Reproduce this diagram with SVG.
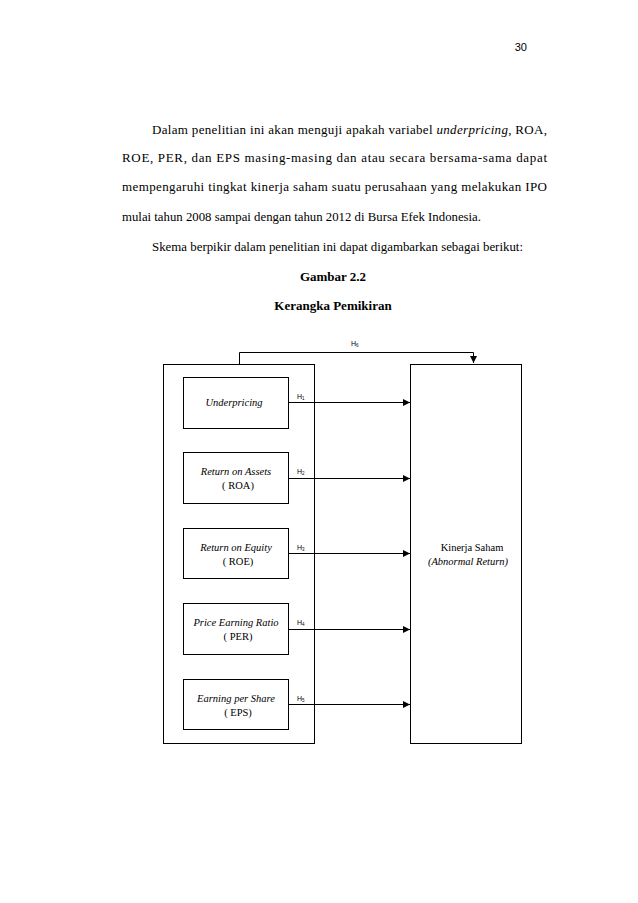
<svg xmlns="http://www.w3.org/2000/svg" width="638" height="903" viewBox="0 0 638 903">
<style>
.p{font-family:"Liberation Serif","Times New Roman",serif;font-size:13px;fill:#000}
.b{font-weight:bold}
.n{font-family:"Liberation Serif",serif;font-size:10.5px;fill:#000;text-anchor:middle}
.i{font-style:italic}
.h{font-family:"Liberation Sans",Arial,sans-serif;font-size:7px;fill:#000}
.s{font-size:4.5px}
.box{fill:#fff;stroke:#000;stroke-width:1}
.ln{fill:none;stroke:#000;stroke-width:1}
</style>
<defs>
<marker id="ar" markerWidth="8" markerHeight="8" refX="7" refY="4" orient="auto" markerUnits="userSpaceOnUse">
<path d="M0,0.5 L7,4 L0,7.5 Z" fill="#000"/>
</marker>
</defs>
<rect width="638" height="903" fill="#fff"/>
<text x="527" y="51" text-anchor="end" style="font-family:'Liberation Sans',Arial,sans-serif;font-size:11px">30</text>
<text class="p" x="152" y="134" textLength="395" lengthAdjust="spacing">Dalam penelitian ini akan menguji apakah variabel <tspan class="i">underpricing</tspan>, ROA,</text>
<text class="p" x="122" y="162" textLength="425" lengthAdjust="spacing">ROE, PER, dan EPS masing-masing dan atau secara bersama-sama dapat</text>
<text class="p" x="122" y="191" textLength="425" lengthAdjust="spacing">mempengaruhi tingkat kinerja saham suatu perusahaan yang melakukan IPO</text>
<text class="p" x="122" y="221" textLength="359" lengthAdjust="spacingAndGlyphs">mulai tahun 2008 sampai dengan tahun 2012 di Bursa Efek Indonesia.</text>
<text class="p" x="152" y="251" textLength="371" lengthAdjust="spacingAndGlyphs">Skema berpikir dalam penelitian ini dapat digambarkan sebagai berikut:</text>
<text class="p b" x="333" y="281" text-anchor="middle">Gambar 2.2</text>
<text class="p b" x="333" y="310" text-anchor="middle">Kerangka Pemikiran</text>

<g id="left-container"><rect class="box" x="163.5" y="364.5" width="151" height="379"/></g>
<g id="kinerja">
<rect class="box" x="410.5" y="364.5" width="111" height="379"/>
<text class="n" x="472" y="551">Kinerja Saham</text>
<text class="n i" x="468" y="565">(Abnormal Return)</text>
</g>
<g id="underpricing">
<rect class="box" x="183.5" y="377.5" width="105" height="51"/>
<text class="n i" x="234" y="406">Underpricing</text>
</g>
<g id="roa">
<rect class="box" x="183.5" y="452.5" width="105" height="51"/>
<text class="n i" x="236" y="475">Return on Assets</text>
<text class="n" x="238" y="489">( ROA)</text>
</g>
<g id="roe">
<rect class="box" x="183.5" y="528.5" width="105" height="50"/>
<text class="n i" x="236" y="551">Return on Equity</text>
<text class="n" x="238" y="565">( ROE)</text>
</g>
<g id="per">
<rect class="box" x="183.5" y="603.5" width="105" height="51"/>
<text class="n i" x="236" y="626">Price Earning Ratio</text>
<text class="n" x="238" y="640">( PER)</text>
</g>
<g id="eps">
<rect class="box" x="183.5" y="679.5" width="105" height="50"/>
<text class="n i" x="236" y="702">Earning per Share</text>
<text class="n" x="238" y="716">( EPS)</text>
</g>

<g id="connectors">
<path class="ln" d="M239.5,364 V352.5 H473.5 V363" marker-end="url(#ar)"/>
<path class="ln" d="M289,402.5 H410" marker-end="url(#ar)"/>
<path class="ln" d="M289,478.5 H410" marker-end="url(#ar)"/>
<path class="ln" d="M289,553.5 H410" marker-end="url(#ar)"/>
<path class="ln" d="M289,629.5 H410" marker-end="url(#ar)"/>
<path class="ln" d="M289,704.5 H410" marker-end="url(#ar)"/>
<text class="h" x="351" y="346">H<tspan class="s" dy="1">6</tspan></text>
<text class="h" x="297" y="399">H<tspan class="s" dy="1">1</tspan></text>
<text class="h" x="297" y="474">H<tspan class="s" dy="1">2</tspan></text>
<text class="h" x="297" y="550">H<tspan class="s" dy="1">3</tspan></text>
<text class="h" x="297" y="625">H<tspan class="s" dy="1">4</tspan></text>
<text class="h" x="297" y="701">H<tspan class="s" dy="1">5</tspan></text>
</g>
</svg>
